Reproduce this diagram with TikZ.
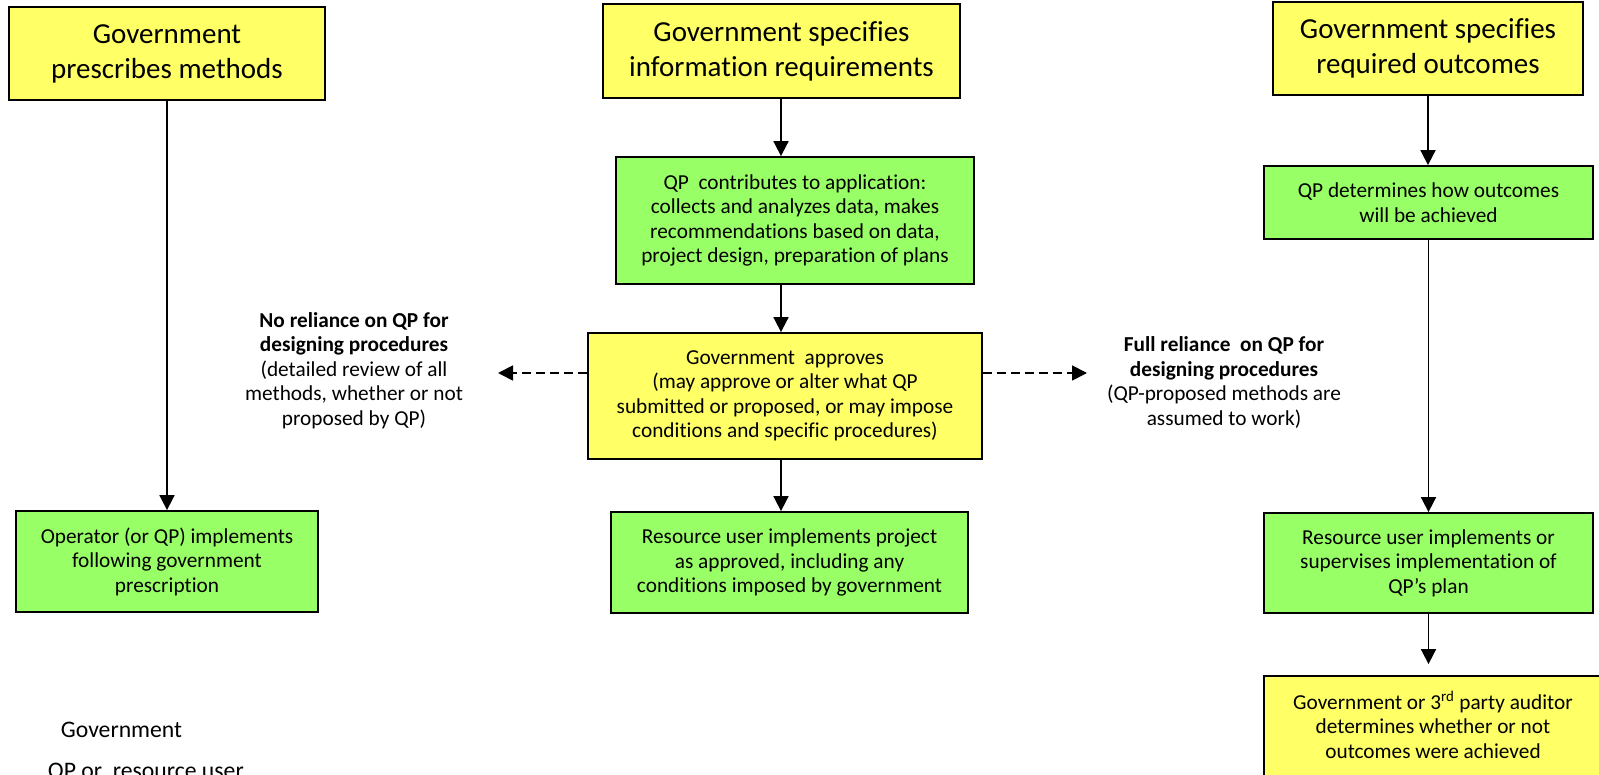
\documentclass[tikz,border=0pt]{standalone}
\usepackage{fontspec}
\setmainfont[Ligatures=NoCommon]{Carlito}
\usepackage{tikz}
\usetikzlibrary{arrows.meta, positioning, calc}
\definecolor{govyellow}{RGB}{255,255,102}
\definecolor{qpgreen}{RGB}{153,255,102}
\newcommand{\bigtext}{\fontsize{29}{35}\selectfont}
\newcommand{\smalltext}{\fontsize{21.3}{24.5}\selectfont}
\newcommand{\legendtext}{\fontsize{23.7}{28}\selectfont}

\begin{document}
\begin{tikzpicture}[x=1pt, y=-1pt, line width=1.8pt, ->, >={Triangle[length=15pt, width=15pt]},
    govbox/.style={draw, fill=govyellow, align=center, inner sep=0pt, font=\smalltext},
    topbox/.style={govbox, font=\bigtext},
    qpbox/.style={draw, fill=qpgreen, align=center, inner sep=0pt, font=\smalltext},
    note/.style={align=center, font=\smalltext},
    dashline/.style={dash pattern=on 9pt off 5pt}]
        \useasboundingbox (0,0) rectangle (1599,775);
        \clip (0,0) rectangle (1599,775);

        % left column
        \node[topbox, minimum width=316pt, minimum height=93pt] (meth) at (167,53.5) {Government\\prescribes methods};
        \node[qpbox, minimum width=302pt, minimum height=101pt] (oper) at (167,561.5) {Operator (or QP) implements\\following government\\prescription};
        \draw (meth) -- (oper);

        % middle column
        \coordinate (midx) at (781,0);
        \node[topbox, minimum width=357pt, minimum height=94pt] (info) at (781.5,51) {Government specifies\\information requirements};
        \node[qpbox, minimum width=358pt, minimum height=127pt] (contrib) at (795,220.5) {QP\ \ contributes to application:\\collects and analyzes data, makes\\recommendations based on data,\\project design, preparation of plans};
        \node[govbox, minimum width=394pt, minimum height=126pt] (approve) at (785,396) {Government\ \ approves\\(may approve or alter what QP\\submitted or proposed, or may impose\\conditions and specific procedures)};
        \node[qpbox, minimum width=357pt, minimum height=101pt] (ruser) at (789.5,562.5) {Resource user implements project\\as approved, including any\\conditions imposed by government};
        \draw (midx |- info.south) -- (midx |- contrib.north);
        \draw (midx |- contrib.south) -- (midx |- approve.north);
        \draw (midx |- approve.south) -- (midx |- ruser.north);

        % reliance notes
        \node[note] (norel) at (354,370.5) {\textbf{No reliance on QP for}\\\textbf{designing procedures}\\(detailed review of all\\methods, whether or not\\proposed by QP)};
        \node[note] (fullrel) at (1224,382.5) {\textbf{Full reliance\ \ on QP for}\\\textbf{designing procedures}\\(QP-proposed methods are\\assumed to work)};
        \coordinate (noend) at (498,373);
        \coordinate (fullend) at (1087,373);
        \draw[dashline] (approve.west |- noend) -- (noend);
        \draw[dashline] (approve.east |- fullend) -- (fullend);

        % right column
        \node[topbox, minimum width=310pt, minimum height=93pt] (outc) at (1428,48.5) {Government specifies\\required outcomes};
        \node[qpbox, minimum width=329pt, minimum height=73pt] (howqp) at (1428.5,202.5) {QP determines how outcomes\\will be achieved};
        \node[qpbox, minimum width=329pt, minimum height=100pt] (supv) at (1428.5,563) {Resource user implements or\\supervises implementation of\\QP’s plan};
        \node[govbox, minimum width=346pt, minimum height=124pt,
              label={[note, xshift=-4pt, yshift=13pt]center:Government or 3\textsuperscript{rd} party auditor\\determines whether or not\\outcomes were achieved}] (audit) at (1437,738) {};
        \draw (outc.south) -- (outc.south |- howqp.north);
        \draw (howqp.south) -- (howqp.south |- supv.north);
        \draw[shorten >=11pt] (supv.south) -- (supv.south |- audit.north);

        % legend
        \node[font=\legendtext, inner sep=0pt, anchor=base west] (leggov) at (60,737) {Government};
        \node[font=\legendtext, inner sep=0pt, anchor=base west] (legqp) at (47,778) {QP or\ \ resource user};
\end{tikzpicture}
\end{document}
